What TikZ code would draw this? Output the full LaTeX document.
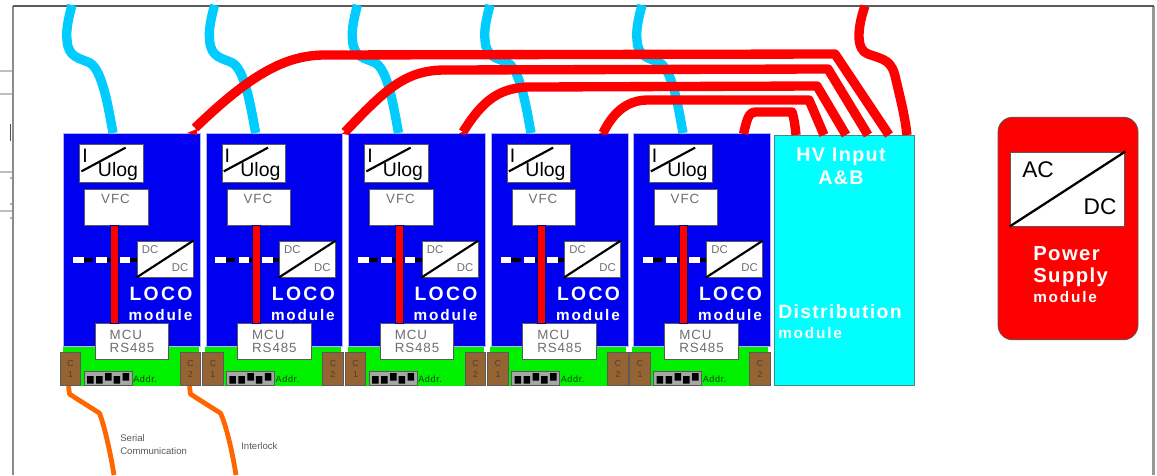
\documentclass[tikz,border=0pt]{standalone}
\usepackage{fontspec}
\setmainfont{Liberation Sans}
\newfontfamily\spc[LetterSpace=7]{Liberation Sans}
\newfontfamily\spw[LetterSpace=12]{Liberation Sans}
\definecolor{bluemod}{RGB}{0,0,240}
\definecolor{greenmod}{RGB}{0,240,0}
\definecolor{brownc}{RGB}{150,100,50}
\definecolor{cyanw}{RGB}{0,204,255}
\definecolor{cyanbox}{RGB}{0,255,255}
\definecolor{orangew}{RGB}{255,102,0}
\definecolor{greytxt}{RGB}{110,110,110}
\definecolor{edgeg}{RGB}{90,90,90}
\tikzset{
 px/.style={x=0.75pt,y=-0.75pt},
 whitebox/.style={draw=edgeg,line width=.7pt,fill=white,inner sep=0pt},
 greytext/.style={text=greytxt,inner sep=0pt,font=\spc\fontsize{10}{11.5}\selectfont,align=left},
 whitetext/.style={text=white,inner sep=0pt,font=\bfseries},
 conn/.style={whitebox,fill=brownc,text=black!75,align=center,inner sep=0pt,font=\fontsize{6.5}{8}\selectfont},
 redw/.style={draw=red,line width=7pt,line join=round},
 cyanwire/.style={draw=cyanw,line width=7pt,line join=round},
 orangewire/.style={draw=orangew,line width=3.6pt,line join=round},
 slash/.style={draw=black,line width=1.6pt},
 tip/.style={fill=red},
 smalltxt/.style={text=black!65,inner sep=0pt,anchor=west,align=left,font=\fontsize{7.2}{9.5}\selectfont}
}
\begin{document}
\begin{tikzpicture}[px]
\useasboundingbox (0,0) rectangle (1157,475);
% page remnants
\draw[black!25,line width=1pt] (0,71) -- (13,71) (0,94) -- (13,94) (0,172) -- (13,172) (0,211) -- (13,211);
\draw[black!70,line width=1pt] (10.5,124) -- (10.5,141);
\fill[black!60] (11,178) circle (.8) (11,204) circle (.8) (11,218) circle (.8);
\draw[black!45,line width=1.6pt] (13,475) -- (13,6);
\draw[black!40,line width=1.8pt] (1153.5,6) -- (1153.5,475);
\draw[edgeg,line width=.8pt] (13,6) -- (1154,6);
% modules
\foreach \i/\ox in {1/0,2/142.4,3/285,4/427.5,5/569.5}{
 \begin{scope}[shift={(\ox,0)}]
  \node[draw=white!70!blue,line width=.5pt,fill=bluemod,minimum width=102.5pt,minimum height=160pt,inner sep=0pt] (blue\i) at (132,240) {};
  \node[fill=greenmod,minimum width=102pt,minimum height=29pt,inner sep=0pt] (green\i) at (130.5,366.3) {};
  \node[whitebox,minimum width=47.5pt,minimum height=28pt] (ulog\i) at (111.5,163.5) {};
  \node[inner sep=0pt,font=\fontsize{14.6}{14.6}\selectfont] (ulogI\i) at (85,156) {I};
  \node[inner sep=0pt,font=\fontsize{14.6}{14.6}\selectfont] (ulogU\i) at (118,171.5) {Ulog};
  \draw[slash] ([shift={(2,27)}]ulog\i.north west) -- ([shift={(-18,-35)}]ulog\i.south east);
  \node[whitebox,minimum width=47.5pt,minimum height=27pt] (vfc\i) at (116.5,207) {};
  \node[greytext] (vfct\i) at (115.5,199) {VFC};
  \coordinate (dashA\i) at (73,260);
  \coordinate (dashB\i) at (137,260);
  \draw[black,line width=3.6pt,dash pattern=on 7.5pt off 10pt,dash phase=10pt] (dashA\i) -- (dashB\i);
  \draw[white,line width=3.8pt,dash pattern=on 8pt off 9.5pt] (dashA\i) -- (dashB\i);
  \node[whitebox,minimum width=42pt,minimum height=27pt] (dc\i) at (165,259) {};
  \draw[slash] (dc\i.south west) -- (dc\i.north east);
  \node[text=greytxt,inner sep=0pt,font=\fontsize{8.5}{9}\selectfont] (dca\i) at (150,250) {DC};
  \node[text=greytxt,inner sep=0pt,font=\fontsize{8.5}{9}\selectfont] (dcb\i) at (180,268) {DC};
  \node[whitetext,font=\spw\bfseries\fontsize{14.5}{15}\selectfont] (loco\i) at (161,294) {LOCO};
  \node[whitetext,font=\spw\bfseries\fontsize{11.5}{12}\selectfont] (modu\i) at (160.5,315.5) {module};
  \node[whitebox,minimum width=55pt,minimum height=27.5pt,greytext] (mcu\i) at (132,341.5) {MCU\\[-1.5pt]RS485};
  \coordinate (barA\i) at (110,225);
  \coordinate (barB\i) at (118,323);
  \draw[draw=bluemod!60!black,fill=red,line width=.3pt] (barA\i) rectangle (barB\i);
  \node[conn,minimum width=15.5pt,minimum height=25pt] (cone\i) at (70.5,369) {C\\1};
  \node[conn,minimum width=15.5pt,minimum height=25pt] (ctwo\i) at (190.5,369) {C\\2};
  \node[whitebox,fill=black!35,minimum width=36pt,minimum height=11pt] (addr\i) at (108,378.5) {};
  \fill[black] (87,376) rectangle +(6.5,7.5) (96,376) rectangle +(6.5,7.5) (105,373) rectangle +(6.5,7.5) (113.5,376) rectangle +(6.5,7.5) (122.5,373) rectangle +(6.5,7.5);
  \node[inner sep=0pt,anchor=west,text=black!75!green,font=\spc\fontsize{6.8}{7}\selectfont] (addrt\i) at (133,379.5) {Addr.};
 \end{scope}
}
% distribution
\node[draw=edgeg!70!cyan,line width=.7pt,fill=cyanbox,minimum width=105pt,minimum height=188pt,inner sep=0pt] (dist) at (844,260.5) {};
\node[whitetext,font=\spc\bfseries\fontsize{14.8}{17}\selectfont,align=center] (hv) at (841,166.5) {HV Input\\A\&B};
\node[whitetext,anchor=west,font=\spc\bfseries\fontsize{14.5}{16}\selectfont] (distt) at (778,312) {Distribution};
\node[whitetext,anchor=west,font=\spw\bfseries\fontsize{11.5}{12}\selectfont] (distm) at (778,333) {module};
% power supply
\node[draw=edgeg,line width=.6pt,fill=red,rounded corners=11pt,minimum width=105pt,minimum height=167pt,inner sep=0pt] (psu) at (1068,228.5) {};
\node[whitebox,minimum width=86pt,minimum height=55.5pt] (acdc) at (1067.5,189) {};
\draw[slash,line width=1.7pt] (acdc.south west) -- (acdc.north east);
\node[inner sep=0pt,font=\fontsize{17}{17}\selectfont] (ac) at (1038,170) {AC};
\node[inner sep=0pt,font=\fontsize{17}{17}\selectfont] (dcp) at (1100,207) {DC};
\node[whitetext,anchor=west,font=\spc\bfseries\fontsize{15.2}{16}\selectfont] (pw) at (1033,254) {Power};
\node[whitetext,anchor=west,font=\spc\bfseries\fontsize{15.2}{16}\selectfont] (sp) at (1033,277) {Supply};
\node[whitetext,anchor=west,font=\spw\bfseries\fontsize{11.5}{12}\selectfont] (pm) at (1033,297) {module};
% cyan wires
\foreach \i/\ox in {1/0,2/142.6,3/285.5,4/418,5/570}{
 \begin{scope}[shift={(\ox,0)}]
  \coordinate (ctop\i) at (72,5);
  \coordinate (cbot\i) at (113,133);
  \draw[cyanwire] (ctop\i) .. controls (68,20) and (66,30) .. (67,40) .. controls (68,58) and (80,58) .. (90,63) .. controls (102,70) and (108,105) .. (cbot\i);
 \end{scope}
}
% red wires
\coordinate (r1a) at (743.5,134); \coordinate (r1b) at (796,135);
\coordinate (r2a) at (603,133);   \coordinate (r2b) at (824,135);
\coordinate (r3a) at (463,132);   \coordinate (r3b) at (846,135);
\coordinate (r4a) at (345,132);   \coordinate (r4b) at (868,135);
\coordinate (r5a) at (195,128);   \coordinate (r5b) at (889,135);
\coordinate (r6a) at (865,6);     \coordinate (r6b) at (907,135);
\draw[redw] (r5a) .. controls (250,75) and (285,55) .. (325,55) -- (835,54) -- (r5b);
\draw[redw] (r4a) .. controls (385,90) and (405,70) .. (445,70) -- (828,69) -- (r4b);
\draw[redw] (r3a) .. controls (483,100) and (500,86) .. (535,87) -- (817,86) -- (r3b);
\draw[redw] (r2a) .. controls (612,115) and (625,100) .. (648,100) -- (809,100) -- (r2b);
\draw[redw] (r1a) .. controls (747,120) and (748,112) .. (756,112) -- (792,112) .. controls (794,118) and (795,125) .. (r1b);
\draw[redw] (r6a) .. controls (858,25) and (855,50) .. (868,54) .. controls (885,60) and (892,60) .. (896,80) .. controls (902,105) and (905,118) .. (r6b);
\fill[tip] (187,133) -- (197,129) -- (197,135) -- cycle;
\fill[tip] (342,133.5) -- (349,129) -- (348,135) -- cycle;
\fill[tip] (459,133.5) -- (466,130) -- (465,135) -- cycle;
\fill[tip] (599,133.5) -- (606,130) -- (605,135) -- cycle;
% orange wires
\coordinate (oa1) at (cone1.south);
\coordinate (oa2) at (ctwo1.south);
\coordinate (ob1) at (114,475); \coordinate (ob2) at (236,475);
\draw[orangewire] (oa1) ++(-2,0) -- ++(1,8) -- ++(30,19) .. controls (104,425) and (110,450) .. (ob1);
\draw[orangewire] (oa2) ++(-1,0) -- ++(1,8) -- ++(30,19) .. controls (226,425) and (232,450) .. (ob2);
\node[smalltxt] (serial) at (120,444.5) {Serial\\Communication};
\node[smalltxt] (inter) at (241,446) {Interlock};
\end{tikzpicture}
\end{document}
